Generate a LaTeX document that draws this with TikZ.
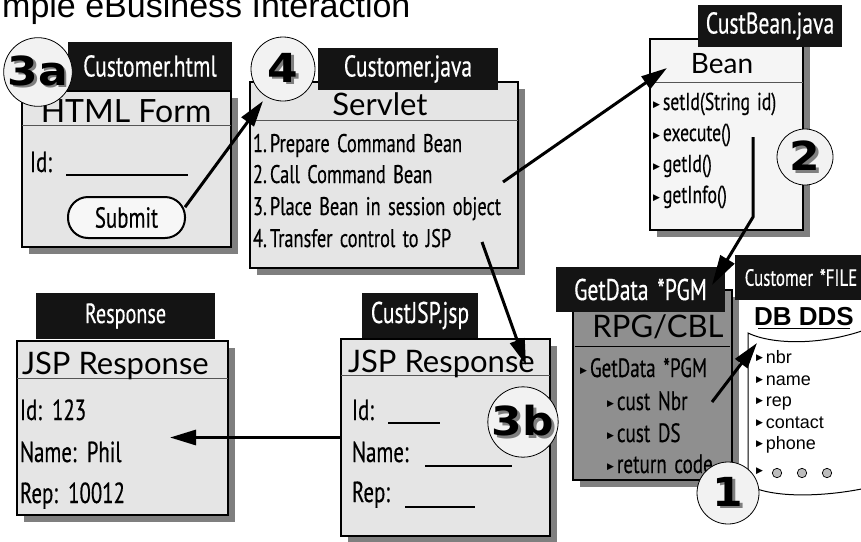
\documentclass[tikz,border=0pt]{standalone}
\usepackage{fontspec}
\usetikzlibrary{arrows.meta,shadows}

\newfontfamily\hdrfont{Lato}
\newfontfamily\cndfont{PT Sans}[FakeStretch=0.72,WordSpace=1.5,FakeBold=0.4]
\newfontfamily\arialfont{Liberation Sans}
\newfontfamily\arialbold{Liberation Sans Bold}
\newfontfamily\symfont{DejaVu Sans}
\newfontfamily\heavyfont{DejaVu Sans Bold}[FakeStretch=1.1]

\definecolor{panel}{HTML}{E5E5E5}
\definecolor{pale}{HTML}{F5F5F5}
\definecolor{dark}{HTML}{8F8F8F}
\definecolor{shade}{HTML}{7F7F7F}
\definecolor{tag}{HTML}{141414}
\definecolor{rulegray}{HTML}{555555}
\definecolor{badgefill}{HTML}{F2F2F2}
\definecolor{dotgray}{HTML}{BDBDBD}
\definecolor{submitfill}{HTML}{F7F7F7}

% small bullet and shadowed step number
\newcommand\bul{\raisebox{0.12em}{\symfont\fontsize{9}{9}\selectfont ▶}\hspace{3pt}}
\newcommand\shadowed[1]{\makebox[0pt][l]{\hspace{2.5pt}\raisebox{-2.5pt}{\color{shade}#1}}#1}

\begin{document}
\begin{tikzpicture}[x=1pt,y=-1pt,
  every node/.style={inner sep=0pt,outer sep=0pt},
  panelbox/.style={draw=black,anchor=north west,
    drop shadow={shadow xshift=7pt,shadow yshift=-7pt,fill=shade,opacity=1}},
  thickpanel/.style={panelbox,line width=2.4pt,fill=panel},
  thinpanel/.style={panelbox,line width=1.1pt},
  rule/.style={draw=rulegray,line width=1pt},
  tagbox/.style={fill=tag,anchor=north west,text=white,
    font=\cndfont\fontsize{30}{30}\selectfont},
  headtext/.style={font=\hdrfont\fontsize{31}{31}\selectfont,anchor=base},
  itemtext/.style={font=\cndfont\fontsize{25.5}{25.5}\selectfont,anchor=base west},
  fieldtext/.style={font=\cndfont\fontsize{29}{29}\selectfont,anchor=base west},
  filetext/.style={font=\arialfont\fontsize{18}{18}\selectfont,anchor=base west},
  blank/.style={line width=1.2pt},
  badge/.style={circle,draw=black,line width=0.8pt,fill=badgefill,
    font=\heavyfont\fontsize{40}{40}\selectfont},
  submitbtn/.style={draw=black,line width=2pt,fill=submitfill,rounded corners=20pt,
    minimum width=117pt,minimum height=41pt,font=\cndfont\fontsize{29}{29}\selectfont},
  flow/.style={line width=3pt,-{Triangle[length=26pt,width=15pt]}}
]
\fill[white] (0,0) rectangle (861,541);
\useasboundingbox (0,0) rectangle (861,541);

% title
\node[font=\arialfont\fontsize{34}{34}\selectfont,anchor=base west] (title) at (-28,17) {Simple eBusiness Interaction};

% HTML form
\node[thickpanel,minimum width=209pt,minimum height=156pt] (form) at (22,91) {};
\draw[rule] (22,125) -- (231,125);
\node[headtext,font=\hdrfont\fontsize{32}{32}\selectfont] (formhead) at (126,122) {HTML Form};
\node[fieldtext] (formid) at (30,172) {Id:};
\draw[blank] (66,175) -- (188,175);
\node[submitbtn] (submit) at (126.5,217.5) {Submit};
\node[tagbox,minimum width=164pt,minimum height=48pt] (formtag) at (68,42) {Customer.html};
\node[badge,minimum size=60pt] (b3a) at (38,72) {\shadowed{3a}};

% servlet
\node[thinpanel,fill=panel,minimum width=268pt,minimum height=186pt] (servlet) at (250,82) {};
\draw[rule] (250,120) -- (518,120);
\node[headtext] (servhead) at (380,115) {Servlet};
\node[itemtext] (s1) at (253,152) {1.\hspace{3pt}Prepare Command Bean};
\node[itemtext] (s2) at (253,183) {2.\hspace{3pt}Call Command Bean};
\node[itemtext] (s3) at (253,215) {3.\hspace{3pt}Place Bean in session object};
\node[itemtext] (s4) at (253,247) {4.\hspace{3pt}Transfer control to JSP};
\node[tagbox,minimum width=180pt,minimum height=42pt] (servtag) at (318,48) {Customer.java};
\node[badge,minimum size=64pt] (b4) at (283,69) {\shadowed{4}};

% command bean
\node[thinpanel,fill=pale,minimum width=153pt,minimum height=191pt] (bean) at (650,39) {};
\draw[rule] (650,82) -- (803,82);
\node[headtext,font=\hdrfont\fontsize{28}{28}\selectfont] (beanhead) at (722,73) {Bean};
\node[itemtext,font=\cndfont\fontsize{24.5}{24.5}\selectfont] (m1) at (653,110) {\bul setId(String id)};
\node[itemtext,font=\cndfont\fontsize{24.5}{24.5}\selectfont] (m2) at (653,141) {\bul execute()};
\node[itemtext,font=\cndfont\fontsize{24.5}{24.5}\selectfont] (m3) at (653,172) {\bul getId()};
\node[itemtext,font=\cndfont\fontsize{24.5}{24.5}\selectfont] (m4) at (653,203) {\bul getInfo()};
\node[tagbox,minimum width=144pt,minimum height=42pt] (beantag) at (698,5) {CustBean.java};
\node[badge,minimum size=56pt] (b2) at (805,157) {\shadowed{2}};

% RPG / COBOL program
\node[thinpanel,fill=dark,minimum width=159pt,minimum height=190pt] (rpg) at (573,290) {};
\draw[line width=1pt] (575,346) -- (730,346);
\node[headtext] (rpghead) at (658,337) {RPG/CBL};
\node[itemtext,font=\cndfont\fontsize{26.5}{26.5}\selectfont] (p1) at (580,377) {\bul GetData *PGM};
\node[itemtext,font=\cndfont\fontsize{26.5}{26.5}\selectfont] (p2) at (607,410) {\bul cust Nbr};
\node[itemtext,font=\cndfont\fontsize{26.5}{26.5}\selectfont] (p3) at (607,442) {\bul cust DS};
\node[itemtext,font=\cndfont\fontsize{26.5}{26.5}\selectfont] (p4) at (607,473) {\bul return code};
\node[tagbox,minimum width=169pt,minimum height=45pt] (rpgtag) at (556,267) {GetData *PGM};
\node[tagbox,font=\cndfont\fontsize{23.5}{23.5}\selectfont,minimum width=132pt,minimum height=45pt] (filetag) at (735,255) {Customer *FILE};

% physical file description
\draw[fill=white,line width=1pt] (748,333) .. controls (775,346) and (830,345) .. (875,326)
  -- (875,486) .. controls (835,496) and (775,500) .. (748,485) -- cycle;
\node[font=\arialbold\fontsize{26}{26}\selectfont,anchor=base] (ddshead) at (804,325) {DB DDS};
\draw[line width=1.5pt] (758,328.5) -- (850,328.5);
\node[filetext] (f1) at (756,363) {\bul nbr};
\node[filetext] (f2) at (756,385) {\bul name};
\node[filetext] (f3) at (756,406) {\bul rep};
\node[filetext] (f4) at (756,428) {\bul contact};
\node[filetext] (f5) at (756,449) {\bul phone};
\node[filetext] (f6) at (756,476) {\bul};
\foreach \cx in {777,802,827} \draw[fill=dotgray,line width=0.7pt] (\cx,473) circle (4.7);
\node[badge,minimum size=62pt] (b1) at (728,493) {\shadowed{1}};

% rendered response
\node[thickpanel,minimum width=211pt,minimum height=174pt] (resp) at (17,341) {};
\draw[rule] (17,378) -- (228,378);
\node[headtext,anchor=base west] (resphead) at (22,374) {JSP Response};
\node[fieldtext] (rid) at (20,420) {Id: 123};
\node[fieldtext] (rname) at (20,462) {Name: Phil};
\node[fieldtext] (rrep) at (20,503) {Rep: 10012};
\node[tagbox,font=\cndfont\fontsize{28}{28}\selectfont,minimum width=179pt,minimum height=46pt] (resptag) at (36,293) {Response};

% JSP template
\node[thickpanel,minimum width=209pt,minimum height=197pt] (jsp) at (341,339) {};
\draw[rule] (341,375) -- (550,375);
\node[headtext,anchor=base west] (jsphead) at (348,372) {JSP Response};
\node[fieldtext] (jid) at (352,420) {Id:};
\draw[blank] (388,423) -- (440,423);
\node[fieldtext] (jname) at (352,462) {Name:};
\draw[blank] (425,466) -- (512,466);
\node[fieldtext] (jrep) at (352,502) {Rep:};
\draw[blank] (405,507) -- (475,507);
\node[tagbox,minimum width=116pt,minimum height=45pt] (jsptag) at (362,293) {CustJSP.jsp};
\node[badge,minimum size=60pt] (b3b) at (523,422) {\shadowed{3b}};

% flow of control
\coordinate (servletIn) at (263,101);
\coordinate (servletOut) at (503,182);
\coordinate (beanIn) at (667,68);
\coordinate (execOut) at (753,137);
\coordinate (execBend) at (753,217);
\coordinate (pgmIn) at (712,285);
\coordinate (jspOut) at (482,242);
\coordinate (jspIn) at (526,365);
\coordinate (nbrOut) at (712,402);
\coordinate (fileIn) at (757,343);
\coordinate (respIn) at (170,437.5);

\draw[flow] (submit.10) -- (servletIn);
\draw[flow] (servletOut) -- (beanIn);
\draw[flow,-{Triangle[length=30pt,width=16pt]}] (execOut) -- (execBend) -- (pgmIn);
\draw[flow] (jspOut) -- (jspIn);
\draw[flow] (nbrOut) -- (fileIn);
\draw[flow] (jsp.west) -- (respIn);
\end{tikzpicture}
\end{document}
